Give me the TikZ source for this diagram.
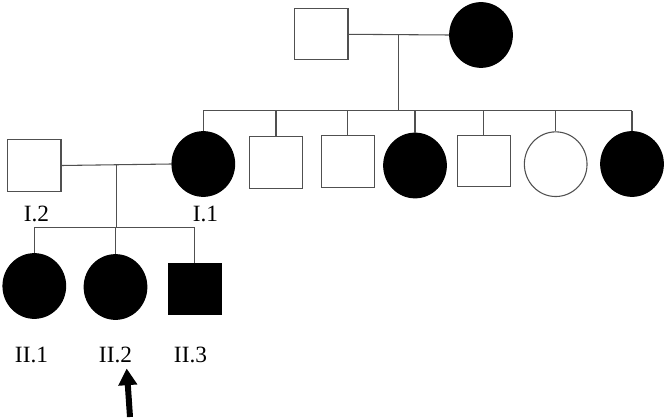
\documentclass[tikz,border=0pt]{standalone}
\usepackage{fontspec}
\setmainfont{Liberation Serif}
\usetikzlibrary{arrows.meta,positioning,shapes.geometric,calc}
\definecolor{lineg}{HTML}{505050}

\begin{document}
\begin{tikzpicture}[x=0.75pt,y=-0.75pt,
    male/.style={draw=lineg,line width=0.8pt,rectangle,minimum width=40pt,minimum height=38.5pt,inner sep=0pt},
    female/.style={draw=lineg,line width=0.8pt,ellipse,minimum width=47pt,minimum height=48.5pt,inner sep=0pt},
    affM/.style={male,fill=black,draw=black},
    affF/.style={female,fill=black,draw=black},
    link/.style={draw=lineg,line width=0.8pt},
    lbl/.style={font=\fontsize{17.5}{20}\selectfont,inner sep=0pt,anchor=base}]
  \useasboundingbox (0,0) rectangle (666,420);
  % grandparents
  \node[male] (gf) at (321.3,34.3) {};
  \node[affF] (gm) at (481,35) {};
  \coordinate (gmid) at ($(gf.east)!0.5!(gm.west)$);
  \coordinate (gsib) at ($(gmid)+(0,76)$);
  \draw[link] (gf.east) -- (gm.west);
  \draw[link] (gmid) -- (gsib);
  % their children
  \foreach \n/\x/\y/\s in {1/203.3/164/affF,2/276/162.5/male,3/347.7/161.5/male,4/415/165.5/affF,
                           5/483.8/161.3/male,6/555.7/164.2/female,7/632/164/affF}{
    \node[\s] (k\n) at (\x,\y) {};
    \draw[link] (k\n.north) -- (k\n.north |- gsib);
  }
  \draw[link] (k1.north |- gsib) -- (k7.north |- gsib);
  % couple of generation I
  \node[male] (h) at (34.3,165.5) {};
  \coordinate (pmid) at ($(h.east)!0.5!(k1.west)$);
  \coordinate (psib) at ($(pmid)+(0,62.5)$);
  \draw[link] (h.east) -- (k1.west);
  \draw[link] (pmid) -- (psib);
  \node[lbl] (l12) at (36.5,221.7) {I.2};
  \node[lbl] (l11) at (205.5,221.7) {I.1};
  % generation II
  \foreach \n/\x/\y/\s/\lx in {1/34.3/286/affF/31.5,2/115.5/287/affF/115.5,3/194.7/289.2/affM/190.5}{
    \node[\s] (c\n) at (\x,\y) {};
    \draw[link] (c\n.north) -- (c\n.north |- psib);
    \node[lbl] (l2\n) at (\lx,362.7) {II.\n};
  }
  \draw[link] (c1.north |- psib) -- (c3.north |- psib);
  % proband
  \coordinate (tip) at (126.7,368.5);
  \coordinate (tail) at (130,417);
  \draw[line width=4.5pt,-{Triangle[width=13.5pt,length=12.5pt]}] (tail) -- (tip);
\end{tikzpicture}
\end{document}
